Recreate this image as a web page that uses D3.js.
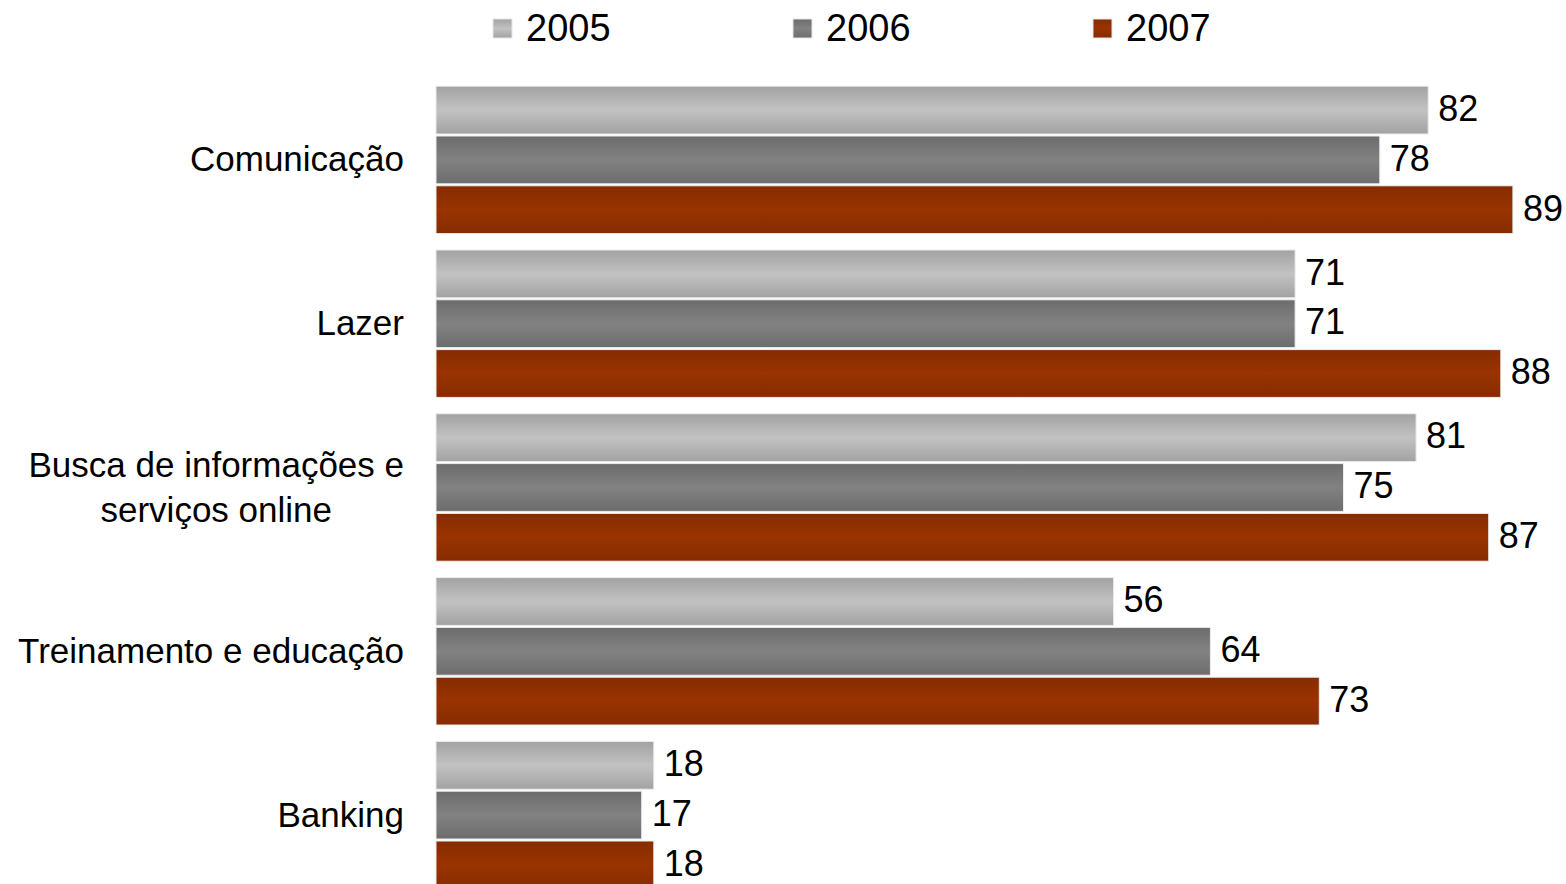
<!DOCTYPE html>
<html>
<head>
<meta charset="utf-8">
<script src="https://cdn.jsdelivr.net/npm/d3@7"></script>
<style>
  body { margin: 0; background: #fff; }
  text { font-family: "Liberation Sans", Arial, sans-serif; fill: #000; }
</style>
</head>
<body>
<div id="chart"></div>
<script>
// data
const categories = ["Comunicação", "Lazer", "Busca de informações e\nserviços online", "Treinamento e educação", "Banking"];
const years = ["2005", "2006", "2007"];
const values2005 = [82, 71, 81, 56, 18];
const values2006 = [78, 71, 75, 64, 17];
const values2007 = [89, 88, 87, 73, 18];
const series = [values2005, values2006, values2007];

// gradient colours per year: [edge, middle]
const colours = [["#a2a2a2", "#c2c2c2"], ["#6c6c6c", "#828282"], ["#862c00", "#993300"]];

const width = 1566, height = 884;

const svg = d3.select("#chart").append("svg")
    .attr("width", width)
    .attr("height", height);

const defs = svg.append("defs");
colours.forEach((c, i) => {
  const g = defs.append("linearGradient")
      .attr("id", "grad" + i)
      .attr("x1", 0).attr("x2", 0).attr("y1", 0).attr("y2", 1);
  g.append("stop").attr("offset", "0%").attr("stop-color", c[0]);
  g.append("stop").attr("offset", "50%").attr("stop-color", c[1]);
  g.append("stop").attr("offset", "100%").attr("stop-color", c[0]);
});

const x = d3.scaleLinear().domain([0, 100]).range([436, 436 + 1210]);

const y = d3.scaleBand()
    .domain(d3.range(categories.length))
    .range([78, 897])
    .paddingInner(0.1)
    .paddingOuter(0.05);

const yInner = d3.scaleBand()
    .domain(d3.range(years.length))
    .range([0, y.bandwidth()])
    .paddingInner(0.04);

// bars
const groups = svg.selectAll("g.group")
    .data(categories)
    .join("g")
    .attr("class", "group")
    .attr("transform", (d, i) => `translate(0,${y(i)})`);

groups.each(function(cat, ci) {
  const g = d3.select(this);
  years.forEach((yr, si) => {
    const v = series[si][ci];
    g.append("rect")
        .attr("x", x(0))
        .attr("y", yInner(si))
        .attr("width", x(v) - x(0))
        .attr("height", yInner.bandwidth())
        .attr("fill", `url(#grad${si})`)
        .attr("stroke", "#ececec")
        .attr("stroke-width", 1);
    g.append("text")
        .attr("x", x(v) + 10)
        .attr("y", yInner(si) + yInner.bandwidth() / 2)
        .attr("dy", "0.3em")
        .style("font-size", "36px")
        .text(v);
  });
});

// category labels (multi-line ones centred on their widest line, block right aligned)
groups.each(function(cat, ci) {
  const lines = cat.split("\n");
  const g = d3.select(this);
  const lineH = 45;
  const mid = y.bandwidth() / 2;
  const t = g.append("text")
      .style("font-size", "35px")
      .attr("text-anchor", "middle");
  const spans = lines.map((l, li) => t.append("tspan")
      .attr("y", mid + (li - (lines.length - 1) / 2) * lineH)
      .attr("dy", "0.33em")
      .text(l));
  const w = d3.max(spans, s => s.node().getComputedTextLength());
  spans.forEach(s => s.attr("x", 404 - w / 2));
});

// legend
const legend = svg.append("g").attr("class", "legend");
years.forEach((yr, i) => {
  const lx = 493 + i * 300;
  legend.append("rect")
      .attr("x", lx)
      .attr("y", 19)
      .attr("width", 19)
      .attr("height", 19)
      .attr("fill", `url(#grad${i})`)
      .attr("stroke", "#e6e6e6");
  legend.append("text")
      .attr("x", lx + 33)
      .attr("y", 28)
      .attr("dy", "0.33em")
      .style("font-size", "38px")
      .text(yr);
});
</script>
</body>
</html>
